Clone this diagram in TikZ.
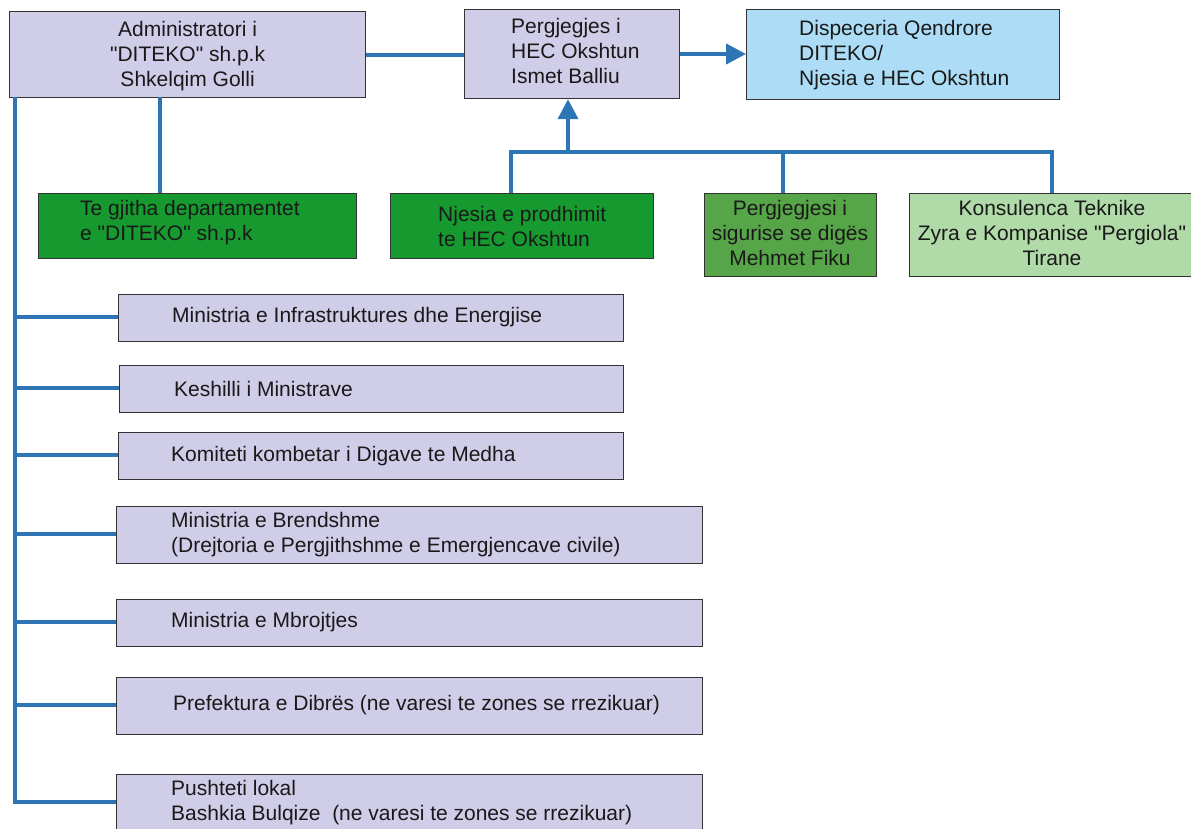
\documentclass[tikz,border=0pt]{standalone}
\usepackage{fontspec}
\setmainfont{Liberation Sans}[Ligatures=TeXOff]
\usetikzlibrary{arrows.meta}
\definecolor{lav}{HTML}{CFCDE8}
\definecolor{ltblue}{HTML}{ADDDF6}
\definecolor{dkgreen}{HTML}{169A30}
\definecolor{mdgreen}{HTML}{56A548}
\definecolor{ltgreen}{HTML}{B0DAA8}
\definecolor{conn}{HTML}{2E75B6}
\tikzset{
  box/.style={draw=black!80, line width=1.2pt, inner sep=0pt, anchor=north west},
  txt/.style={inner sep=0pt, font=\fontsize{21}{25}\selectfont, text=black!90},
  ltxt/.style={txt, anchor=west, align=left},
  ctxt/.style={txt, align=center},
  link/.style={draw=conn, line width=4pt},
  arr/.style={link, -{Triangle[length=20pt,width=20pt]}}
}
\begin{document}
\begin{tikzpicture}[x=1pt,y=-1pt]
\useasboundingbox (0,0) rectangle (1191,829);
\clip (0,0) rectangle (1191,829);
% top row
\node[box, fill=lav, minimum width=356pt, minimum height=86pt] (adm) at (9,11) {};
\node[ctxt] (admt) at ([yshift=-1pt]adm.center) {Administratori i\\"DITEKO" sh.p.k\\Shkelqim Golli};
\node[box, fill=lav, minimum width=215pt, minimum height=89pt] (pgj) at (464,9) {};
\node[ltxt] (pgjt) at (511,51) {Pergjegjes i\\HEC Okshtun\\Ismet Balliu};
\node[box, fill=ltblue, minimum width=313pt, minimum height=90pt] (dsp) at (746,9) {};
\node[ltxt] (dspt) at (799,55) {Dispeceria Qendrore\\DITEKO/\\Njesia e HEC Okshtun};
% second row
\node[box, fill=dkgreen, minimum width=318pt, minimum height=65pt] (tgj) at (38,193) {};
\node[ltxt] (tgjt) at (80,223) {Te gjitha departamentet\\e "DITEKO" sh.p.k};
\node[box, fill=dkgreen, minimum width=263pt, minimum height=65pt] (njp) at (390,193) {};
\node[ltxt] (njpt) at (438,226) {Njesia e prodhimit\\te HEC Okshtun};
\node[box, fill=mdgreen, minimum width=172pt, minimum height=83pt] (sig) at (704,193) {};
\node[ctxt] (sigt) at (790,233) {Pergjegjesi i\\sigurise se digës\\Mehmet Fiku};
\node[box, fill=ltgreen, minimum width=300pt, minimum height=83pt] (kon) at (909,193) {};
\node[ctxt] (kont) at (1052,233) {Konsulenca Teknike\\Zyra e Kompanise "Pergiola"\\Tirane};
% list
\node[box, fill=lav, minimum width=505pt, minimum height=47pt] (l1) at (118,294) {};
\node[ltxt] (l1t) at (172,317.5) {Ministria e Infrastruktures dhe Energjise};
\node[box, fill=lav, minimum width=504pt, minimum height=47pt] (l2) at (119,365) {};
\node[ltxt] (l2t) at (174,388.5) {Keshilli i Ministrave};
\node[box, fill=lav, minimum width=505pt, minimum height=47pt] (l3) at (118,432) {};
\node[ltxt] (l3t) at (171,456) {Komiteti kombetar i Digave te Medha};
\node[box, fill=lav, minimum width=586pt, minimum height=57pt] (l4) at (116,506) {};
\node[ltxt] (l4t) at (171,535) {Ministria e Brendshme\\(Drejtoria e Pergjithshme e Emergjencave civile)};
\node[box, fill=lav, minimum width=586pt, minimum height=47pt] (l5) at (116,599) {};
\node[ltxt] (l5t) at (171,622.5) {Ministria e Mbrojtjes};
\node[box, fill=lav, minimum width=586pt, minimum height=57pt] (l6) at (116,677) {};
\node[ltxt] (l6t) at (173,705) {Prefektura e Dibrës (ne varesi te zones se rrezikuar)};
\node[box, fill=lav, minimum width=586pt, minimum height=70pt] (l7) at (116,774) {};
\node[ltxt] (l7t) at (171,802.5) {Pushteti lokal\\Bashkia Bulqize\ \ (ne varesi te zones se rrezikuar)};
% connectors
\coordinate (bustop) at (15,97);
\coordinate (busbot) at (15,802);
\coordinate (hub) at (568,152);
\draw[link] (adm.east |- 0,55) -- (pgj.west |- 0,55);
\draw[arr] (pgj.east |- 0,54) -- (dsp.west |- 0,54);
\draw[link] (160,97) -- (160,193);
\draw[link] (bustop) -- (busbot);
\foreach \n/\y in {l1/317,l2/388,l3/455,l4/534,l5/622,l6/705,l7/802}
  \draw[link] (13,\y) -- (\n.west |- 0,\y);
\draw[link] (511,193) |- (1052,152) -- (1052,193);
\draw[link] (783,152) -- (783,193);
\draw[arr] (hub) -- (pgj.south -| hub);
\end{tikzpicture}
\end{document}
